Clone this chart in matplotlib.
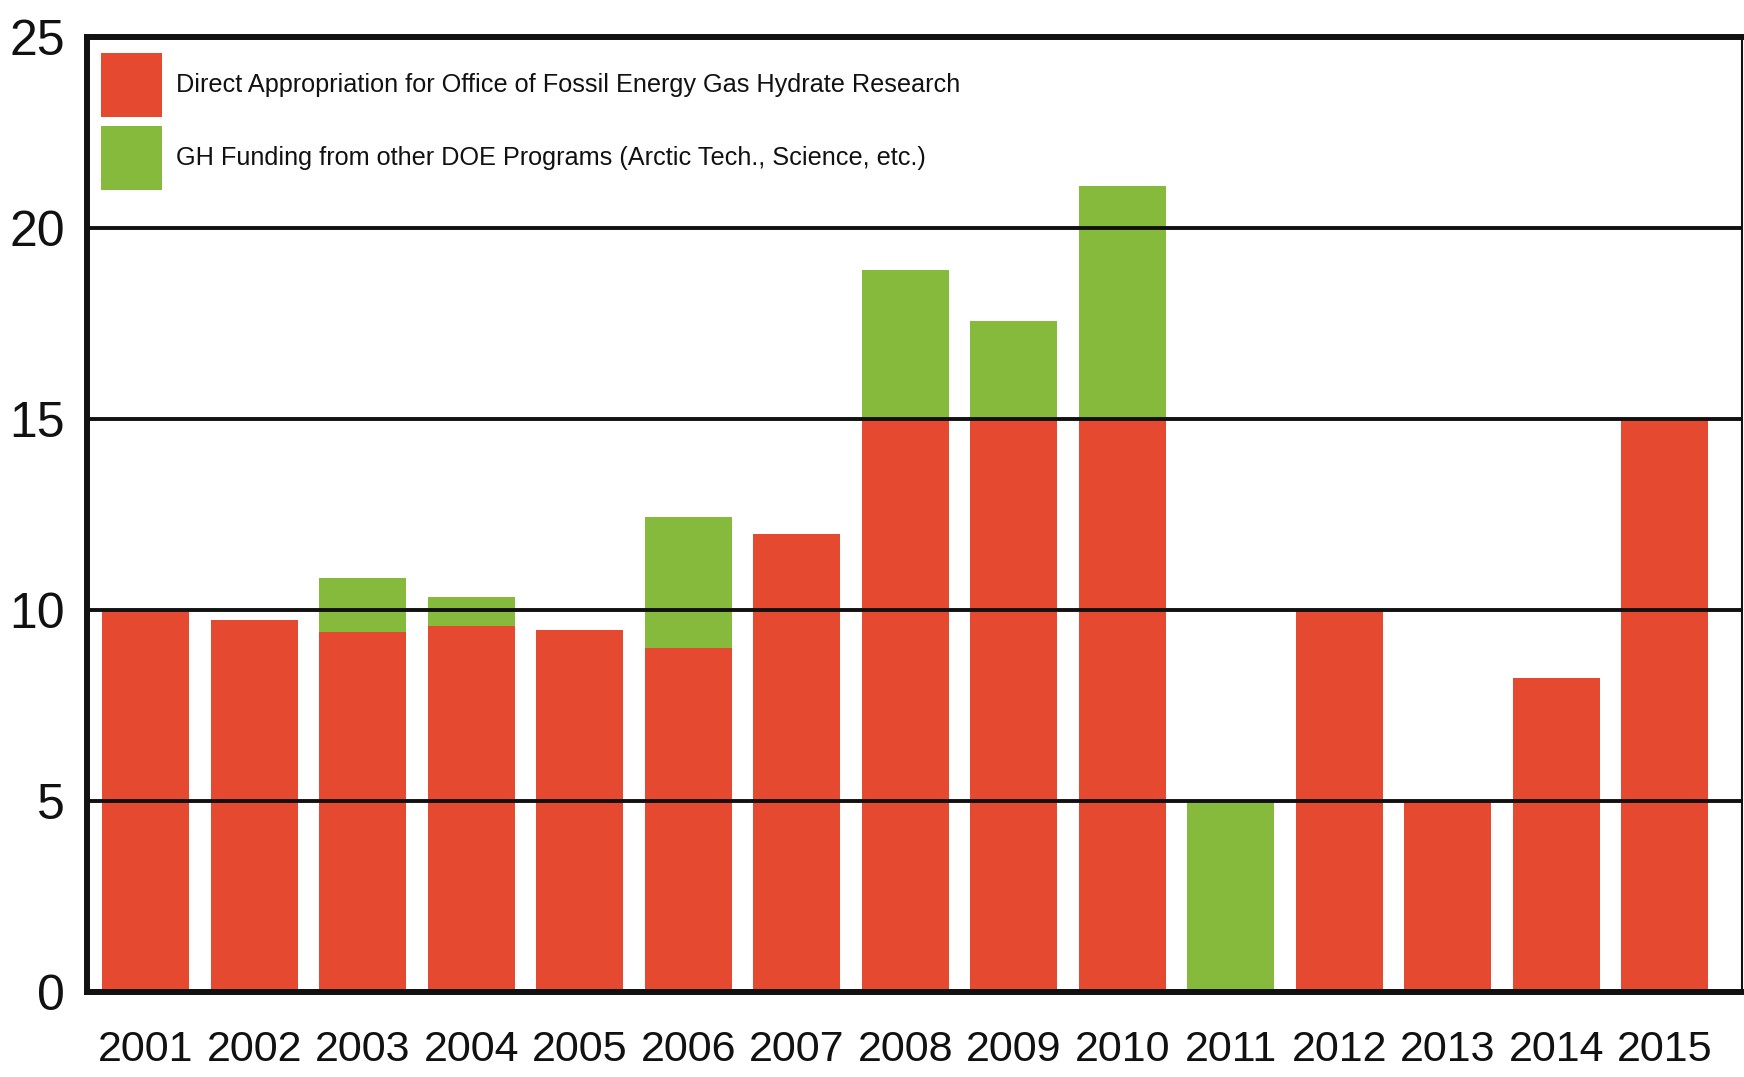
import matplotlib
matplotlib.use("Agg")
import matplotlib.pyplot as plt
from matplotlib.patches import Patch
from matplotlib import font_manager

years = ["2001", "2002", "2003", "2004", "2005", "2006", "2007", "2008",
         "2009", "2010", "2011", "2012", "2013", "2014", "2015"]
direct = [10.0, 9.75, 9.43, 9.57, 9.49, 9.0, 12.0, 15.0, 15.0, 15.0, 0.0, 10.0, 5.0, 8.23, 15.0]
other = [0.0, 0.0, 1.4, 0.76, 0.0, 3.44, 0.0, 3.9, 2.56, 6.1, 5.0, 0.0, 0.0, 0.0, 0.0]
yticks = [0, 5, 10, 15, 20, 25]
labels = ["Direct Appropriation for Office of Fossil Energy Gas Hydrate Research",
          "GH Funding from other DOE Programs (Arctic Tech., Science, etc.)"]

RED = "#E54A31"
GREEN = "#86BA3C"

names = {f.name for f in font_manager.fontManager.ttflist}
narrow = 'Liberation Sans Narrow' in names
if narrow:
    fam = ['Liberation Sans Narrow', 'DejaVu Sans']
    xs, ys, ls = 34, 37, 20
else:
    fam = ['Liberation Sans', 'DejaVu Sans']
    xs, ys, ls = 31, 36, 18.2
plt.rcParams['font.family'] = fam

fig = plt.figure(figsize=(17.44, 10.77), dpi=100)
ax = fig.add_axes([0.0499, 0.0789, 0.9489, 0.8867])

x = list(range(len(years)))
ax.bar(x, direct, width=0.8, color=RED, zorder=2, linewidth=0)
ax.bar(x, other, width=0.8, bottom=direct, color=GREEN, zorder=2, linewidth=0)

for v in [5, 10, 15, 20]:
    ax.axhline(v, color="#111111", linewidth=2.8, zorder=3)

ax.set_xlim(-0.54, 14.71)
ax.set_ylim(0, 25)
ax.set_yticks(yticks)
ax.set_yticklabels([str(t) for t in yticks], fontsize=ys)
ax.set_xticks(x)
ax.set_xticklabels(years, fontsize=xs)
ax.tick_params(axis='both', length=0, colors="#111111")
ax.tick_params(axis='y', pad=16)
ax.tick_params(axis='x', pad=27)

for s in ["top", "left", "bottom"]:
    ax.spines[s].set_linewidth(4.3)
    ax.spines[s].set_color("#111111")
ax.spines["right"].set_linewidth(1.5)
ax.spines["right"].set_color("#111111")
for s in ax.spines.values():
    s.set_zorder(4)

handles = [Patch(facecolor=RED, edgecolor='none'), Patch(facecolor=GREEN, edgecolor='none')]
hl = 2.3 * 19 / ls
hh = 67 / (ls * 100 / 72 * 0.758)
leg = ax.legend(handles, labels, loc="upper left", bbox_to_anchor=(0.0085, 0.983),
                frameon=False, fontsize=ls, handlelength=hl, handleheight=hh,
                labelspacing=0.36 * 19 / ls, handletextpad=0.55 * 19 / ls,
                borderpad=0, borderaxespad=0)
for t in leg.get_texts():
    t.set_color("#111111")

fig.savefig("out.png", dpi=100, facecolor="white")
